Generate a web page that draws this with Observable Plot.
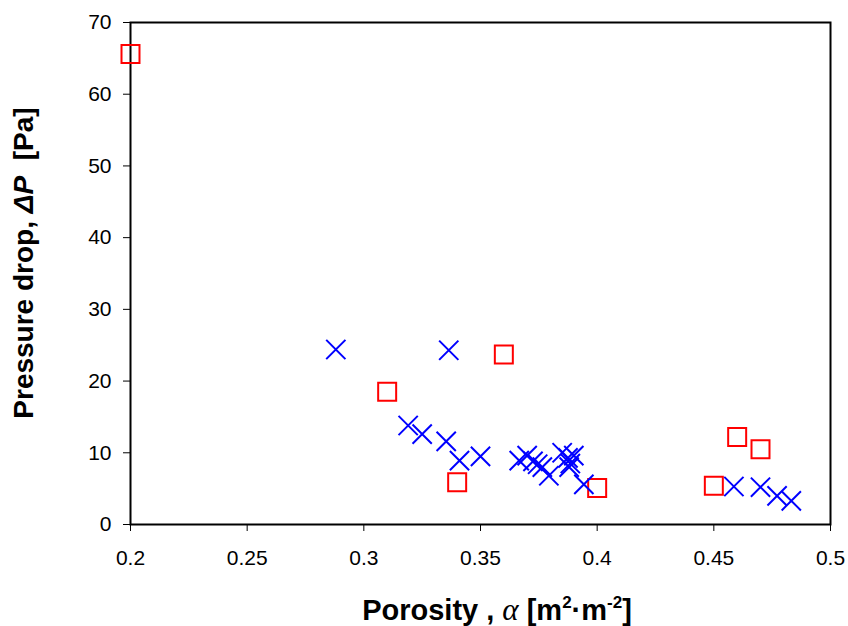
<!DOCTYPE html>
<html>
<head>
<meta charset="utf-8">
<script src="https://cdn.jsdelivr.net/npm/d3@7"></script>
<script src="https://cdn.jsdelivr.net/npm/@observablehq/plot@0.6"></script>
<style>
  html, body { margin: 0; padding: 0; background: #ffffff; }
  #chart { width: 848px; height: 626px; }
</style>
</head>
<body>
<div id="chart"></div>
<script>
// Red squares series
const squareX = [0.2, 0.31, 0.34, 0.36, 0.40, 0.45, 0.46, 0.47];
const squareY = [65.6, 18.5, 5.9, 23.7, 5.1, 5.4, 12.2, 10.5];

// Blue crosses series
const crossX = [0.288, 0.3364, 0.319, 0.325, 0.3353, 0.341, 0.350, 0.3666, 0.3700, 0.3725, 0.3745, 0.3765, 0.3793,
                0.385, 0.3875, 0.3885, 0.3900, 0.3880, 0.3943, 0.4586, 0.4700, 0.4771, 0.4832];
const crossY = [24.4, 24.3, 13.8, 12.6, 11.6, 8.9, 9.5, 8.9, 9.6, 8.8, 8.4, 8.0, 6.8,
                10.0, 9.3, 8.5, 9.6, 8.0, 5.6, 5.3, 5.2, 4.0, 3.3];

// Tick values
const xTicks = [0.2, 0.25, 0.3, 0.35, 0.4, 0.45, 0.5];
const xTickLabels = ["0.2", "0.25", "0.3", "0.35", "0.4", "0.45", "0.5"];
const yTicks = [0, 10, 20, 30, 40, 50, 60, 70];

const squares = squareX.map((x, i) => ({x, y: squareY[i]}));
const crosses = crossX.map((x, i) => ({x, y: crossY[i]}));

const chart = Plot.plot({
  width: 848,
  height: 626,
  marginLeft: 130,
  marginRight: 18,
  marginTop: 22,
  marginBottom: 102,
  style: {
    fontFamily: "'Liberation Sans', Arial, sans-serif",
    fontSize: "21px",
    color: "black",
    background: "white",
    overflow: "visible"
  },
  x: {domain: [0.2, 0.5]},
  y: {domain: [0, 70]},
  marks: [
    Plot.axisX({
      ticks: xTicks,
      tickFormat: (d) => xTickLabels[xTicks.indexOf(d)] ?? String(d),
      tickSize: 7,
      tickPadding: 19,
      label: null,
      fontSize: 21
    }),
    Plot.axisY({
      ticks: yTicks,
      tickSize: 7,
      tickPadding: 12,
      label: null,
      fontSize: 21
    }),
    Plot.frame({stroke: "black", strokeWidth: 2}),
    Plot.dot(squares, {x: "x", y: "y", symbol: "square", r: 10.15, stroke: "#ff0000", strokeWidth: 2, fill: "none"}),
    Plot.dot(crosses, {x: "x", y: "y", symbol: "times", r: 8.8, stroke: "#0000ff", strokeWidth: 2})
  ]
});

document.getElementById("chart").appendChild(chart);

const svg = d3.select(chart);

// X axis label
const xl = svg.append("text")
  .attr("x", 497)
  .attr("y", 620)
  .attr("text-anchor", "middle")
  .attr("font-family", "'Liberation Sans', Arial, sans-serif")
  .attr("font-weight", "bold")
  .attr("font-size", 29)
  .attr("fill", "black");
xl.append("tspan").text("Porosity , ");
xl.append("tspan").attr("font-family", "'Liberation Serif', 'Times New Roman', serif").attr("font-style", "italic").attr("font-weight", "normal").attr("font-size", 31).text("α");
xl.append("tspan").text(" [m");
xl.append("tspan").attr("font-size", 17).attr("dy", -12).text("2");
xl.append("tspan").attr("dy", 12).text("·m");
xl.append("tspan").attr("font-size", 17).attr("dy", -12).text("-2");
xl.append("tspan").attr("dy", 12).text("]");

// Y axis label
const yl = svg.append("text")
  .attr("transform", "translate(33,263) rotate(-90)")
  .attr("text-anchor", "middle")
  .attr("font-family", "'Liberation Sans', Arial, sans-serif")
  .attr("font-weight", "bold")
  .attr("font-size", 28)
  .attr("fill", "black");
yl.append("tspan").text("Pressure drop, ");
yl.append("tspan").attr("font-style", "italic").text("ΔP");
yl.append("tspan").text("\u00A0 [Pa]");
</script>
</body>
</html>
